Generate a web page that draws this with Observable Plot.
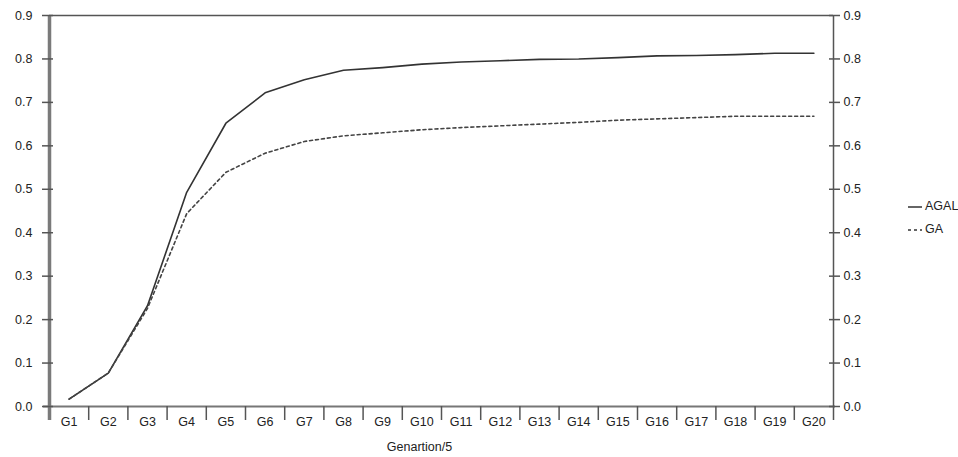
<!DOCTYPE html>
<html>
<head>
<meta charset="utf-8">
<script src="https://cdn.jsdelivr.net/npm/d3@7"></script>
<script src="https://cdn.jsdelivr.net/npm/@observablehq/plot@0.6"></script>
<style>
  html, body { margin: 0; padding: 0; background: #fff; }
  #wrap { position: relative; width: 958px; height: 457px; font-family: "Liberation Sans", Arial, sans-serif; }
  #legend { position: absolute; left: 906px; top: 195px; font-size: 12.5px; color: #222; line-height: 23px; }
  #legend div { display: flex; align-items: center; }
  #legend svg { margin-right: 3px; }
</style>
</head>
<body>
<div id="wrap"><div id="legend"></div></div>
<script>
const categories = ["G1","G2","G3","G4","G5","G6","G7","G8","G9","G10","G11","G12","G13","G14","G15","G16","G17","G18","G19","G20"];
const agal = [0.017,0.077,0.232,0.493,0.652,0.722,0.752,0.774,0.780,0.788,0.793,0.796,0.799,0.800,0.803,0.807,0.808,0.810,0.813,0.813];
const ga   = [0.017,0.077,0.226,0.444,0.539,0.583,0.610,0.623,0.630,0.637,0.642,0.646,0.650,0.654,0.659,0.662,0.665,0.668,0.668,0.668];
const seriesNames = ["AGAL","GA"];
const yTicks = [0,0.1,0.2,0.3,0.4,0.5,0.6,0.7,0.8,0.9];

const idx = categories.map((c, i) => i + 1);
const bounds = [0.5, ...idx.map(i => i + 0.5)];
const rows = [];
idx.forEach((i, k) => {
  rows.push({series: seriesNames[0], x: i, y: agal[k]});
  rows.push({series: seriesNames[1], x: i, y: ga[k]});
});
const fmt = d3.format(".1f");
const txt = "#222";

const chart = Plot.plot({
  width: 958,
  height: 457,
  marginLeft: 49,
  marginRight: 125,
  marginTop: 15,
  marginBottom: 51,
  style: {fontFamily: "Liberation Sans, Arial, sans-serif", fontSize: "12.5px", color: txt, background: "#fff"},
  x: {type: "linear", domain: [0.5, categories.length + 0.5], axis: null, label: null},
  y: {domain: [0, 0.9], axis: null, label: null},
  marks: [
    Plot.ruleY([0.9], {stroke: "#555", strokeWidth: 1.5}),
    Plot.ruleY([0], {stroke: "#777", strokeWidth: 2, insetLeft: -6, insetRight: -2}),
    Plot.ruleX([0.5], {stroke: "#7a7a7a", strokeWidth: 3.5, insetBottom: -14}),
    Plot.ruleX([categories.length + 0.5], {stroke: "#555", strokeWidth: 1.5, insetBottom: -14}),
    Plot.axisX({ticks: bounds.slice(1, -1), tickSize: 14, tickFormat: () => "", label: null, stroke: "#555", strokeWidth: 1.5}),
    Plot.axisX({ticks: idx, tickSize: 0, tickPadding: 11, tickFormat: i => categories[i - 1], label: null, fill: txt}),
    Plot.axisY({anchor: "left", ticks: yTicks, tickSize: 11, dx: 4, tickFormat: () => "", label: null, stroke: "#555", strokeWidth: 1.5}),
    Plot.axisY({anchor: "left", ticks: yTicks, tickSize: 0, tickPadding: 17, tickFormat: fmt, label: null, fill: txt}),
    Plot.axisY({anchor: "right", ticks: yTicks, tickSize: 11, dx: -5, tickFormat: () => "", label: null, stroke: "#555", strokeWidth: 1.5}),
    Plot.axisY({anchor: "right", ticks: yTicks, tickSize: 0, tickPadding: 10, tickFormat: fmt, label: null, fill: txt}),
    Plot.line(rows.filter(d => d.series === seriesNames[0]), {x: "x", y: "y", stroke: "#333", strokeWidth: 1.6}),
    Plot.line(rows.filter(d => d.series === seriesNames[1]), {x: "x", y: "y", stroke: "#444", strokeWidth: 1.6, strokeDasharray: "3,3"}),
    Plot.text(["Genartion/5"], {frameAnchor: "bottom", dx: -22, dy: 44, fill: txt, fontSize: 12.5})
  ]
});
const wrap = document.getElementById("wrap");
wrap.insertBefore(chart, wrap.firstChild);

const legend = document.getElementById("legend");
[{name: seriesNames[0], dash: null}, {name: seriesNames[1], dash: "3,3"}].forEach(s => {
  const row = document.createElement("div");
  row.innerHTML = `<svg width="16" height="6"><line x1="2" y1="3" x2="16" y2="3" stroke="#333" stroke-width="1.5" ${s.dash ? `stroke-dasharray="${s.dash}"` : ""}></line></svg><span>${s.name}</span>`;
  legend.appendChild(row);
});
</script>
</body>
</html>
